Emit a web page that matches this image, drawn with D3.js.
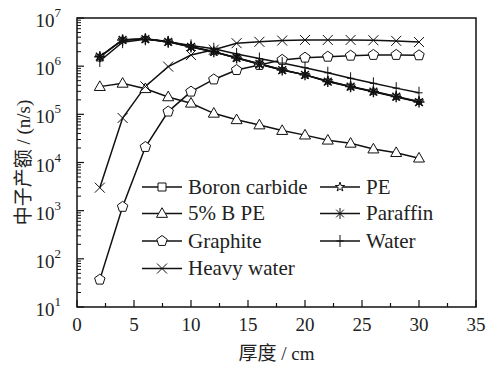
<!DOCTYPE html>
<html lang="zh">
<head>
  <meta charset="UTF-8">
  <title>中子产额</title>
  <script src="https://cdn.jsdelivr.net/npm/d3@7"></script>
  <style>
    html, body { margin: 0; padding: 0; background: #fff; }
  </style>
</head>
<body>
  <div id="chart"></div>
  <script>
    // thickness (cm)
    const thickness = [2, 4, 6, 8, 10, 12, 14, 16, 18, 20, 22, 24, 26, 28, 30];

    const boronCarbide = [1.55e6, 3.5e6, 3.65e6, 3.2e6, 2.5e6, 2.0e6, 1.48e6, 1.1e6, 8.3e5, 6.6e5, 4.8e5, 3.75e5, 2.95e5, 2.3e5, 1.8e5];
    const bpe5 = [3.76e5, 4.4e5, 3.4e5, 2.3e5, 1.7e5, 1.05e5, 7.7e4, 6.0e4, 4.6e4, 3.7e4, 2.9e4, 2.5e4, 1.9e4, 1.6e4, 1.23e4];
    const graphite = [37, 1.2e3, 2.1e4, 1.14e5, 2.96e5, 5.3e5, 8.3e5, 1.06e6, 1.35e6, 1.5e6, 1.57e6, 1.65e6, 1.71e6, 1.71e6, 1.68e6];
    const heavyWater = [3.0e3, 8.4e4, 3.8e5, 9.8e5, 1.7e6, 2.2e6, 3.0e6, 3.2e6, 3.4e6, 3.5e6, 3.5e6, 3.5e6, 3.45e6, 3.35e6, 3.17e6];
    const pe = [1.58e6, 3.55e6, 3.7e6, 3.25e6, 2.55e6, 2.0e6, 1.5e6, 1.12e6, 8.4e5, 6.6e5, 4.9e5, 3.8e5, 3.0e5, 2.35e5, 1.85e5];
    const paraffin = [1.57e6, 3.5e6, 3.65e6, 3.2e6, 2.5e6, 2.0e6, 1.48e6, 1.11e6, 8.3e5, 6.6e5, 4.8e5, 3.76e5, 2.96e5, 2.33e5, 1.8e5];
    const water = [1.28e6, 3.15e6, 3.6e6, 3.2e6, 2.7e6, 2.3e6, 1.79e6, 1.44e6, 1.16e6, 9.3e5, 7.3e5, 5.6e5, 4.4e5, 3.5e5, 2.8e5];

    const xTicks = [0, 5, 10, 15, 20, 25, 30, 35];
    const yExps = [1, 2, 3, 4, 5, 6, 7];

    const seriesNames = ['Boron carbide', '5% B PE', 'Graphite', 'Heavy water', 'PE', 'Paraffin', 'Water'];
    const seriesValues = [boronCarbide, bpe5, graphite, heavyWater, pe, paraffin, water];
    const seriesMarkers = ['square', 'triangle', 'pentagon', 'cross', 'star', 'asterisk', 'plus'];

    const FONT = '"Liberation Serif", "Times New Roman", "DejaVu Serif", "Noto Sans CJK SC", serif';

    const W = 486, H = 372;
    const m = {left: 77, right: 10, top: 18, bottom: 65};

    const svg = d3.select('#chart').append('svg')
      .attr('width', W).attr('height', H)
      .style('font-family', FONT);

    const x = d3.scaleLinear().domain([0, 35]).range([m.left, W - m.right]);
    const y = d3.scaleLog().domain([10, 1e7]).range([H - m.bottom, m.top]);

    // marker paths
    function markerPath(type, r) {
      if (type === 'square') return d3.symbol(d3.symbolSquare, (r * 1.6) ** 2)();
      if (type === 'triangle') {
        return `M0,${-r * 1.05}L${r},${r * 0.7}L${-r},${r * 0.7}Z`;
      }
      if (type === 'pentagon') {
        const pts = d3.range(5).map(i => {
          const a = -Math.PI / 2 + i * 2 * Math.PI / 5;
          return [r * Math.cos(a), r * Math.sin(a)];
        });
        return 'M' + pts.join('L') + 'Z';
      }
      if (type === 'star') return d3.symbol(d3.symbolStar, r * r * 2.2)();
      if (type === 'cross') {
        return `M${-r},${-r}L${r},${r}M${-r},${r}L${r},${-r}`;
      }
      if (type === 'plus') {
        return `M0,${-r}L0,${r}M${-r * 0.6},0L${r * 0.6},0`;
      }
      if (type === 'asterisk') {
        let p = '';
        for (let i = 0; i < 4; i++) {
          const a = i * Math.PI / 4;
          p += `M${-r * Math.cos(a)},${-r * Math.sin(a)}L${r * Math.cos(a)},${r * Math.sin(a)}`;
        }
        return p;
      }
    }
    const filled = t => ['square', 'triangle', 'pentagon', 'star'].includes(t);
    const markerSize = {square: 3, triangle: 5.5, pentagon: 5.5, cross: 5, star: 3.5, asterisk: 5.5, plus: 6};

    const line = d3.line().x(d => x(d[0])).y(d => y(d[1]));

    const plot = svg.append('g');
    seriesValues.forEach((vals, i) => {
      const pts = thickness.map((t, j) => [t, vals[j]]);
      plot.append('path')
        .attr('d', line(pts))
        .attr('fill', 'none')
        .attr('stroke', '#111')
        .attr('stroke-width', 1.5);
    });
    seriesValues.forEach((vals, i) => {
      const type = seriesMarkers[i];
      plot.selectAll(null)
        .data(thickness.map((t, j) => [t, vals[j]]))
        .join('path')
        .attr('transform', d => `translate(${x(d[0])},${y(d[1])})`)
        .attr('d', markerPath(type, markerSize[type]))
        .attr('fill', filled(type) ? '#fff' : 'none')
        .attr('stroke', '#111')
        .attr('stroke-width', type === 'asterisk' ? 1.4 : 1);
    });

    // frame
    svg.append('rect')
      .attr('x', m.left).attr('y', m.top)
      .attr('width', W - m.right - m.left).attr('height', H - m.bottom - m.top)
      .attr('fill', 'none').attr('stroke', '#111').attr('stroke-width', 1.5);

    // x axis ticks (inward)
    const xAxisG = svg.append('g');
    const xMinor = d3.range(0, 35.01, 2.5);
    xAxisG.selectAll('line')
      .data(xMinor)
      .join('line')
      .attr('x1', d => x(d)).attr('x2', d => x(d))
      .attr('y1', H - m.bottom)
      .attr('y2', d => H - m.bottom - (d % 5 === 0 ? 7 : 4))
      .attr('stroke', '#111').attr('stroke-width', 1.2);
    xAxisG.selectAll('text')
      .data(xTicks)
      .join('text')
      .attr('x', d => x(d))
      .attr('y', H - m.bottom + 24)
      .attr('text-anchor', 'middle')
      .attr('font-size', 19)
      .attr('fill', '#222')
      .text(d => d);

    // y axis ticks (inward)
    const yAxisG = svg.append('g');
    const yMajor = yExps.map(e => Math.pow(10, e));
    const yMinor = [];
    yExps.slice(0, -1).forEach(e => {
      for (let k = 2; k <= 9; k++) yMinor.push(k * Math.pow(10, e));
    });
    yAxisG.selectAll('line.maj')
      .data(yMajor)
      .join('line')
      .attr('x1', m.left).attr('x2', m.left + 7)
      .attr('y1', d => y(d)).attr('y2', d => y(d))
      .attr('stroke', '#111').attr('stroke-width', 1.2);
    yAxisG.selectAll('line.min')
      .data(yMinor)
      .join('line')
      .attr('x1', m.left).attr('x2', m.left + 4)
      .attr('y1', d => y(d)).attr('y2', d => y(d))
      .attr('stroke', '#111').attr('stroke-width', 1);
    const yLab = yAxisG.selectAll('text')
      .data(yExps)
      .join('text')
      .attr('x', m.left - 16)
      .attr('y', d => y(Math.pow(10, d)) + 9)
      .attr('text-anchor', 'end')
      .attr('font-size', 19)
      .attr('fill', '#222');
    yLab.append('tspan').text('10');
    yLab.append('tspan').attr('dy', -10).attr('font-size', 13).text(d => d);

    // axis titles
    svg.append('text')
      .attr('x', (m.left + W - m.right) / 2)
      .attr('y', H - 12)
      .attr('text-anchor', 'middle')
      .attr('font-size', 19)
      .attr('fill', '#222')
      .text('厚度 / cm');
    svg.append('text')
      .attr('transform', `translate(30,${(m.top + H - m.bottom) / 2}) rotate(-90)`)
      .attr('text-anchor', 'middle')
      .attr('font-size', 19)
      .attr('fill', '#222')
      .text('中子产额 / (n/s)');

    // legend
    const legRowsY = [187, 213.5, 241, 268.5];
    const legCols = [{x0: 142, tx: 188}, {x0: 320, tx: 366}];
    const legend = svg.append('g');
    seriesNames.forEach((name, i) => {
      const col = i < 4 ? legCols[0] : legCols[1];
      const row = i < 4 ? i : i - 4;
      const ly = legRowsY[row];
      const g = legend.append('g');
      g.append('line')
        .attr('x1', col.x0).attr('x2', col.x0 + 40)
        .attr('y1', ly).attr('y2', ly)
        .attr('stroke', '#111').attr('stroke-width', 1.5);
      const type = seriesMarkers[i];
      const lr = type === 'square' ? 5 : markerSize[type];
      g.append('path')
        .attr('transform', `translate(${col.x0 + 20},${ly})`)
        .attr('d', markerPath(type, lr))
        .attr('fill', filled(type) ? '#fff' : 'none')
        .attr('stroke', '#111').attr('stroke-width', 1);
      g.append('text')
        .attr('x', col.tx).attr('y', ly + 6.5)
        .attr('font-size', 21)
        .attr('fill', '#222')
        .text(name);
    });
  </script>
</body>
</html>
